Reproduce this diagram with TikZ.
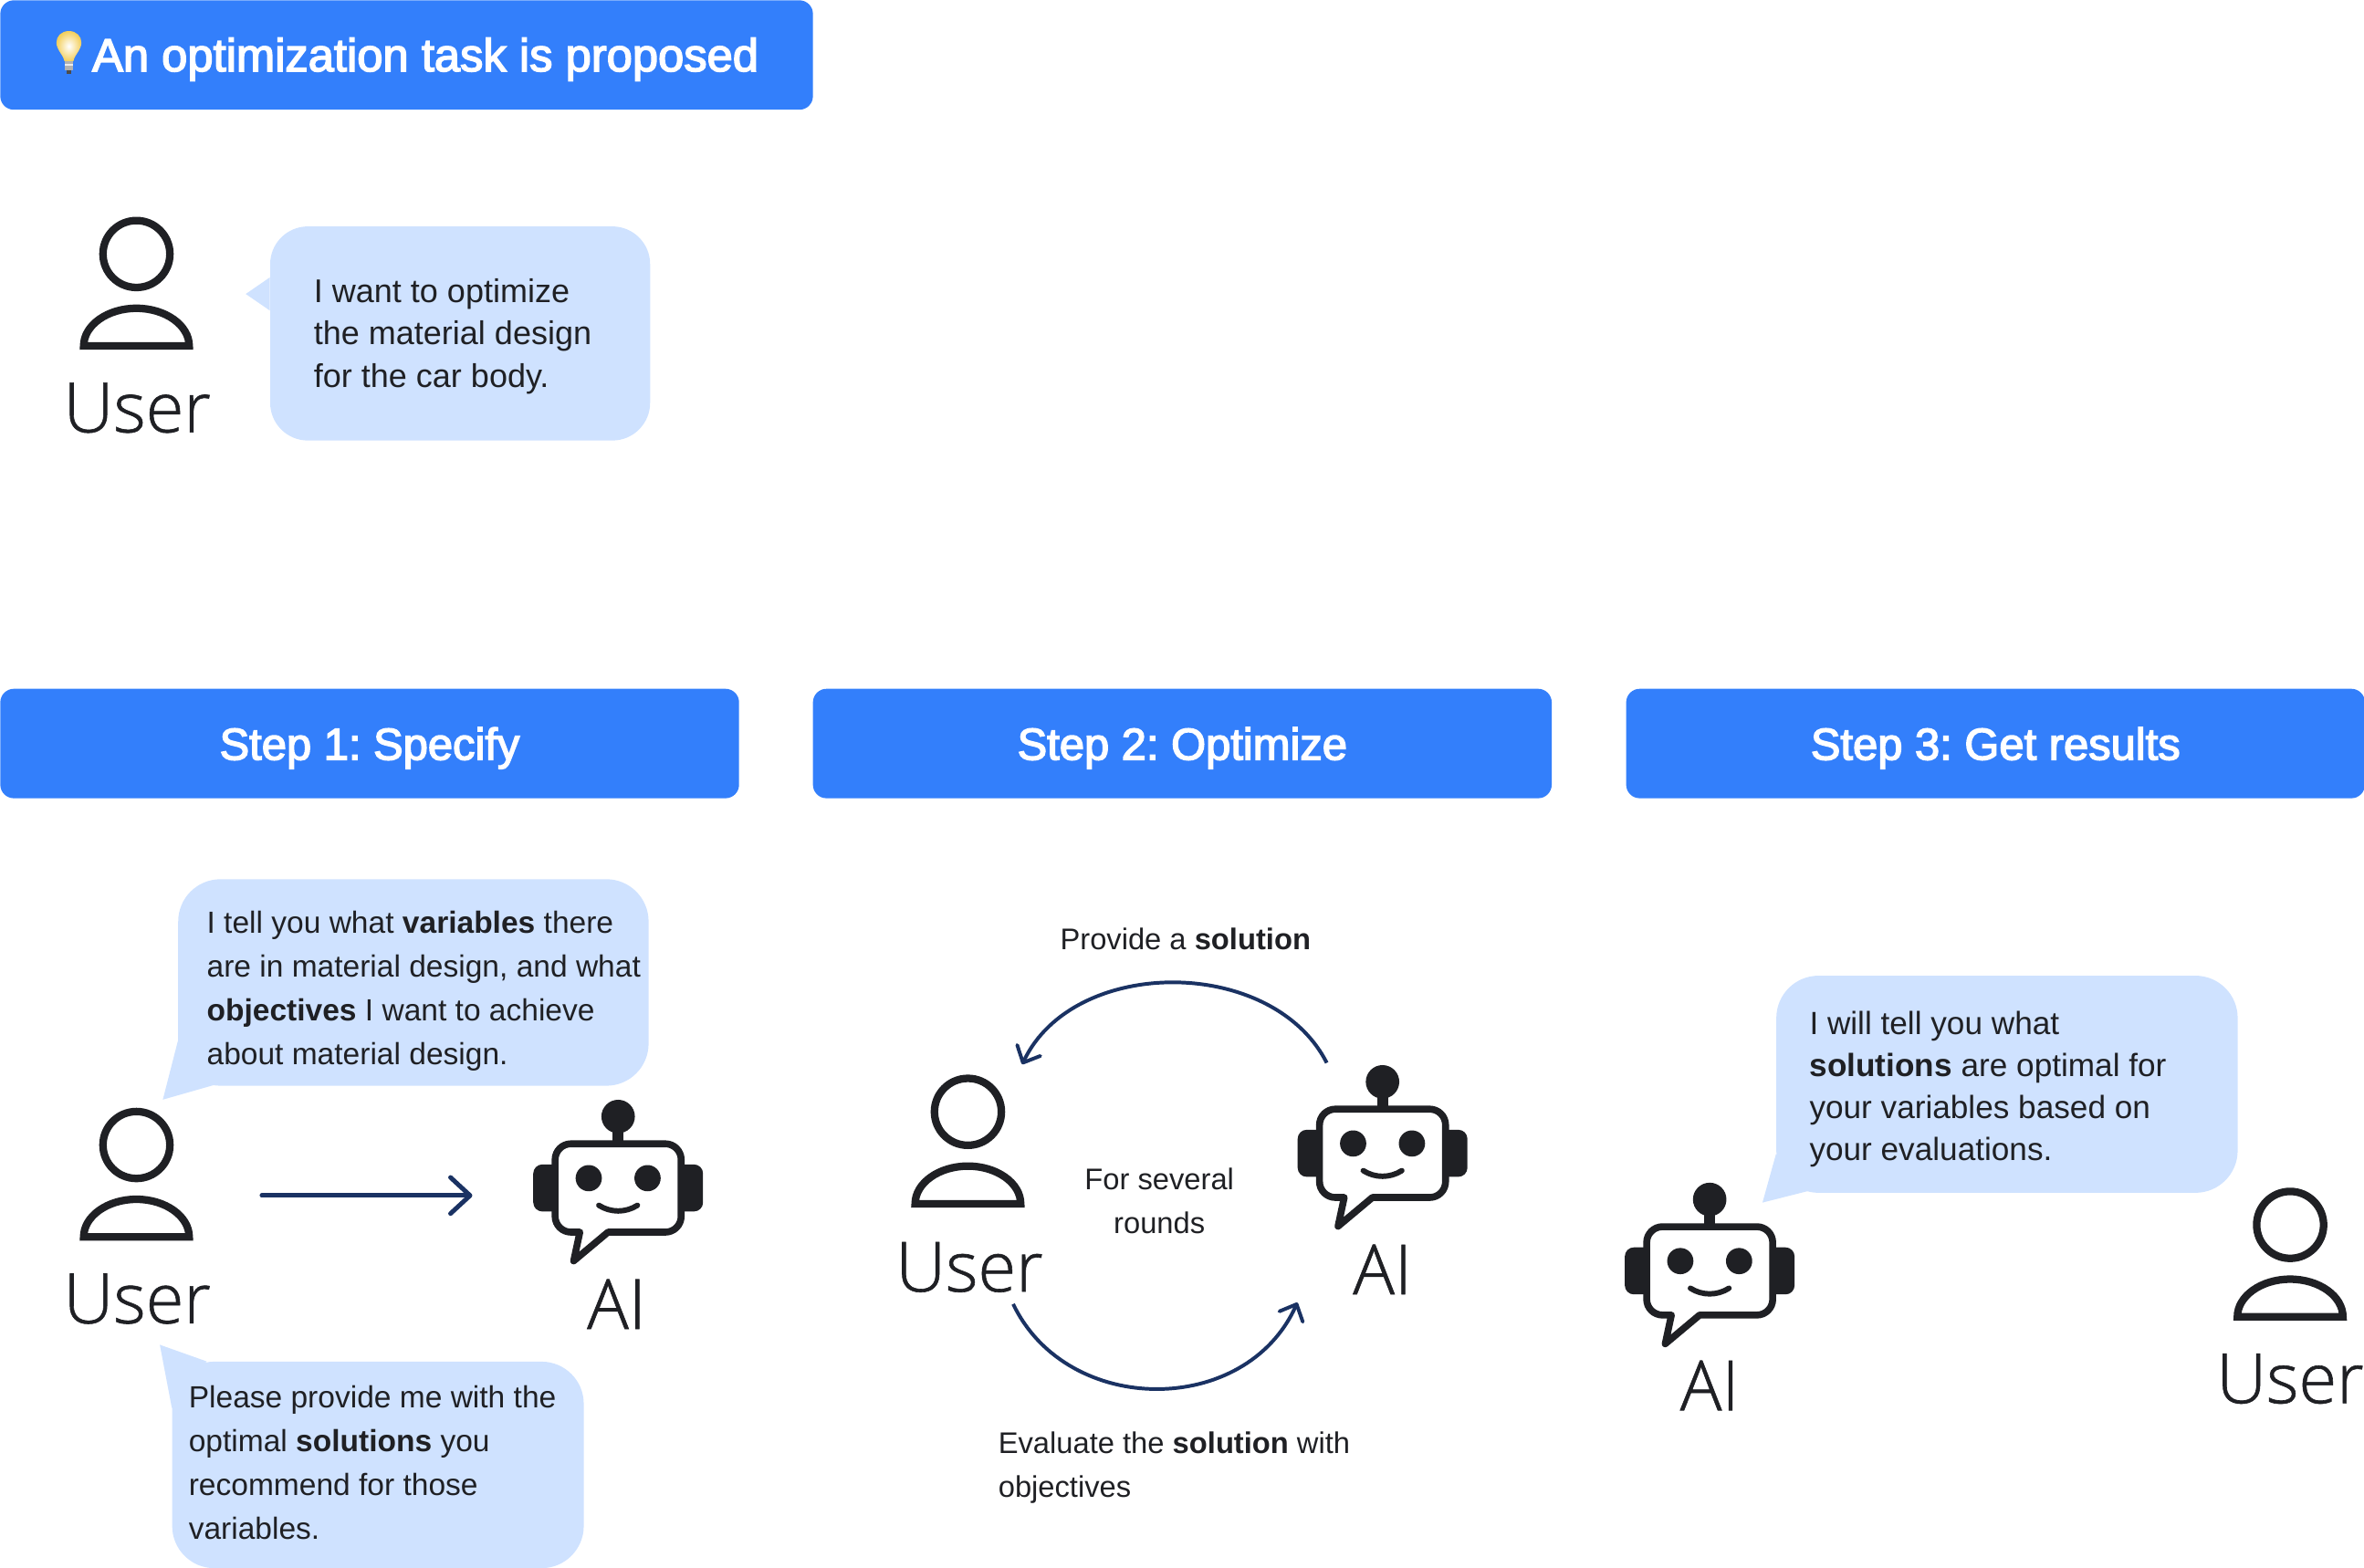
\documentclass[tikz,border=0pt]{standalone}
\usepackage{fontspec}
\usetikzlibrary{positioning,calc,arrows.meta,shapes}
\setmainfont{Liberation Sans}
\newfontfamily\headfont[FakeBold=3]{Liberation Sans}
\newfontfamily\labelfont[FakeBold=0.8]{Open Sans Light}
\definecolor{headblue}{HTML}{337FFB}
\definecolor{bubbleblue}{HTML}{CFE2FF}
\definecolor{inkdark}{HTML}{1F2024}
\definecolor{flownavy}{HTML}{1A3263}
\definecolor{bulbyellow}{HTML}{F3CF5C}
\newcommand{\headtext}{\headfont\frenchspacing\fontsize{30.7}{36}\selectfont}
\newcommand{\steptext}{\headfont\frenchspacing\fontsize{29.6}{36}\selectfont}
\newcommand{\bodytext}{\frenchspacing\fontsize{20.3}{29}\selectfont}
\newcommand{\iconlabel}{\labelfont\fontsize{46}{50}\selectfont}
\tikzstyle{header} = [fill=headblue, rounded corners=9pt, minimum height=72.6pt, text=white, inner sep=0pt, text height=28pt, text depth=6.6pt, font=\steptext]
\tikzstyle{bubble} = [fill=bubbleblue, rounded corners=28pt, inner sep=0pt]
\tikzstyle{tail} = [fill=bubbleblue]
\tikzstyle{saying} = [text=inkdark, align=left, inner sep=0pt, font=\bodytext]
\tikzstyle{note} = [text=inkdark, align=center, inner sep=0pt, font=\frenchspacing\fontsize{19.8}{29}\selectfont]
\tikzstyle{iconbox} = [minimum width=76pt, minimum height=90pt, inner sep=0pt]
\tikzstyle{botbox} = [minimum width=113pt, minimum height=110pt, inner sep=0pt]
\tikzstyle{iconname} = [text=inkdark, inner sep=0pt, font=\iconlabel]
\tikzstyle{flow} = [flownavy, line width=2.4pt]
\tikzset{
    person/.pic={
        \draw [inkdark, line width=5pt] (0,19.5) circle (22.2pt);
        \draw [inkdark, line width=5pt, line join=miter] (-35,-41.5) .. controls (-35,-27.75) and (-19.25,-16.5) .. (0,-16.5) .. controls (19.25,-16.5) and (35,-27.75) .. (35,-41.5) -- cycle;
    },
    robot/.pic={
        % Ears and antenna
        \fill [inkdark, rounded corners=6pt] (-56.3,15.6) rectangle (-35,-15.6);
        \fill [inkdark, rounded corners=6pt] (56.3,15.6) rectangle (35,-15.6);
        \fill [inkdark] (0,47.4) circle (11.1pt);
        \fill [inkdark] (-3.6,47.4) rectangle (3.6,29.3);
        % Head with speech tail
        \draw [inkdark, fill=white, line width=4.6pt, line join=round] (-25.4,-29.3) [rounded corners=10.5pt] -- (-41.8,-29.3) -- (-41.8,29.3) -- (41.8,29.3) -- (41.8,-29.3) [sharp corners] -- (-6.7,-29.3) -- (-29.5,-48.4) -- cycle;
        % Face
        \fill [inkdark] (-19.5,6.5) circle (8.7pt);
        \fill [inkdark] (19.5,6.5) circle (8.7pt);
        \draw [inkdark, line width=3.6pt, line cap=round] (-12.8,-11.5) .. controls (-5,-16.5) and (5,-16.5) .. (12.8,-11.5);
    },
    bulb/.pic={
        \shade [inner color=white, outer color=bulbyellow] (0,14.4) .. controls (-5,14.4) and (-8.3,11) .. (-8.3,6.7) .. controls (-8.3,2) and (-3.6,-1.5) .. (-3,-5.6) -- (3,-5.6) .. controls (3.6,-1.5) and (8.3,2) .. (8.3,6.7) .. controls (8.3,11) and (5,14.4) .. (0,14.4) -- cycle;
        \fill [gray!60] (-3,-5.6) rectangle (3,-11.6);
        \fill [gray!15] (-3,-7.5) rectangle (3,-8.5);
        \fill [black!70] (-1.8,-11.6) rectangle (1.8,-13.8);
    }
}

\begin{document}
\begin{tikzpicture}[x=1pt, y=1pt, >={Straight Barb[length=9pt, width=17pt, round]}]
    \useasboundingbox (0,0) rectangle (1568,-1040);
    % Task
    \node [header, minimum width=539pt, anchor=north west] (task) at (0,0) {};
    \node [text=white, inner sep=0pt, anchor=west, font=\headtext] (tasktext) at (61,-39.3) {An optimization task is proposed};
    \pic at (45.7,-35) {bulb};
    \node [iconbox] (user0) at (90.5,-188) {};
    \pic at (user0) {person};
    \node [iconname] (user0label) at (91,-270.5) {User};
    \node [bubble, rounded corners=25pt, minimum width=252pt, minimum height=142pt, anchor=north west] (ask) at (179,-150) {};
    \fill [tail] ($(ask.north west)+(0,-34)$) -- ++(-16,-11) -- ++(16,-11) -- cycle;
    \node [saying, anchor=west, font=\frenchspacing\fontsize{21.8}{28}\selectfont] (asktext) at ($(ask.west)+(29,-2)$) {I want to optimize\\the material design\\for the car body.};

    % Step headers
    \node [header, minimum width=490pt, anchor=north west] (step1) at (0,-456.7) {Step 1: Specify};
    \node [header, minimum width=490pt, right=48.6pt of step1] (step2) {Step 2: Optimize};
    \node [header, minimum width=490pt, right=49pt of step2] (step3) {Step 3: Get results};

    % Step 1
    \node [iconbox] (user1) at (90.5,-779) {};
    \pic at (user1) {person};
    \node [iconname] (user1label) at (91,-861.5) {User};
    \node [botbox] (bot1) at (410,-788) {};
    \pic at (bot1) {robot};
    \node [iconname] (bot1label) at (409,-865) {AI};
    \draw [flow, -{Straight Barb[length=13pt, width=24pt, round]}, line width=3pt, line cap=round] ([shift={(45,-14)}]user1.east) -- ([shift={(-40,-5)}]bot1.west);
    \node [bubble, minimum width=312pt, minimum height=137pt, anchor=north west] (vars) at (118,-583) {};
    \fill [tail] ($(vars.south west)+(0,30)$) -- ++(-10,-39) -- ++(35,10) -- cycle;
    \node [saying, anchor=west] (varstext) at (137,-657.5) {I tell you what \textbf{variables} there\\are in material design, and what\\\textbf{objectives} I want to achieve\\about material design.};
    \node [bubble, minimum width=273pt, minimum height=137pt, anchor=north west] (sols) at (114,-903) {};
    \fill [tail] ($(sols.north west)+(0,-31)$) -- ++(-8,42) -- ++(31,-11) -- cycle;
    \node [saying, anchor=west] (solstext) at (125,-970) {Please provide me with the\\optimal \textbf{solutions} you\\recommend for those\\variables.};

    % Step 2
    \node [iconbox] (user2) at (642,-757) {};
    \pic at (user2) {person};
    \node [iconname] (user2label) at (643,-840.5) {User};
    \node [botbox] (bot2) at (917,-765) {};
    \pic at (bot2) {robot};
    \node [iconname] (bot2label) at (917,-842) {AI};
    \draw [flow, ->] ([shift={(-37,60)}]bot2.center) .. controls +(-36,71) and +(34,72) .. ([shift={(36,51)}]user2.center);
    \draw [flow, ->] ([shift={(30,-108)}]user2.center) .. controls +(36,-75) and +(-34,-76) .. ([shift={(-56.5,-99)}]bot2.center);
    \node [note, anchor=west] (provide) at (703,-623) {Provide a \textbf{solution}};
    \node [note] (rounds) at (769,-796.5) {For several\\rounds};
    \node [note, anchor=west, align=left] (evaluate) at (662,-973.5) {Evaluate the \textbf{solution} with\\objectives};

    % Step 3
    \node [botbox] (bot3) at (1134,-843) {};
    \pic at (bot3) {robot};
    \node [iconname] (bot3label) at (1134,-919) {AI};
    \node [iconbox] (user3) at (1519,-832) {};
    \pic at (user3) {person};
    \node [iconname] (user3label) at (1519,-914.5) {User};
    \node [bubble, minimum width=306pt, minimum height=144pt, anchor=north west] (result) at (1178,-647) {};
    \fill [tail] ($(result.south west)+(0,26)$) -- ++(-9,-32.3) -- ++(30,7.6) -- cycle;
    \node [saying, anchor=west, font=\frenchspacing\fontsize{21.3}{28}\selectfont] (resulttext) at (1200,-722.5) {I will tell you what\\\textbf{solutions} are optimal for\\your variables based on\\your evaluations.};
\end{tikzpicture}
\end{document}
